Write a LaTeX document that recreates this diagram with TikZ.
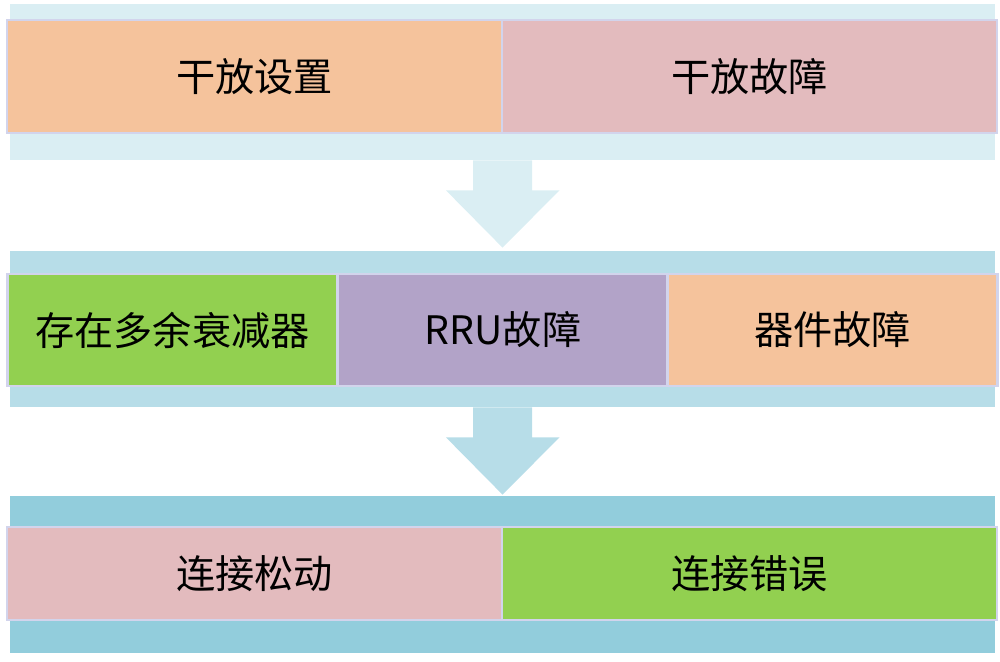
\documentclass[tikz,border=0pt]{standalone}
\usepackage{fontspec}
\newfontfamily\cjk{Noto Sans CJK SC}
\usepackage{tikz}
\usetikzlibrary{calc,backgrounds}
\definecolor{bandA} {RGB} {218, 238, 243}
\definecolor{bandB} {RGB} {183, 221, 232}
\definecolor{bandC} {RGB} {146, 205, 220}
\definecolor{orange1} {RGB} {245, 195, 156}
\definecolor{pink1} {RGB} {227, 187, 190}
\definecolor{purple1} {RGB} {178, 163, 200}
\definecolor{green1} {RGB} {146, 208, 80}
\definecolor{boxline} {RGB} {210, 212, 236}
\tikzstyle{flow}=[
  x=0.5pt, y=-0.5pt, font=\cjk\fontsize{19.6}{23}\selectfont
]
\tikzstyle{band}=[
  inner sep=0pt, minimum width=492.5pt, minimum height=78pt
]
\tikzstyle{flowbox}=[
  draw=boxline, line width=1.2pt, inner sep=0pt, text=black
]
\tikzstyle{widebox}=[
  flowbox, minimum width=247.5pt, minimum height=56.5pt
]
\tikzstyle{thirdbox}=[
  flowbox, minimum width=165pt, minimum height=56pt
]
\tikzstyle{lowbox}=[
  flowbox, minimum width=247.5pt, minimum height=46.5pt
]

\begin{document}
\begin{tikzpicture}[flow]
    \useasboundingbox (0,0) rectangle (1000,662);

    % bands
    \node (band1) [band, fill=bandA] at (502.5,82) {};
    \node (band2) [band, fill=bandB] at (502.5,329) {};
    \node (band3) [band, fill=bandC, minimum height=78.5pt] at (502.5,574.5) {};

    % first row
    \node (setup) [widebox, fill=orange1] at (254.5,76.5) {干放设置};
    \node (fault) [widebox, fill=pink1] at (749.5,76.5) {干放故障};

    % second row
    \node (atten) [thirdbox, fill=green1] at (172.5,330) {存在多余衰减器};
    \node (rru) [thirdbox, fill=purple1] at (503,330) {RRU故障};
    \node (part) [thirdbox, fill=orange1] at (832.5,330) {器件故障};

    % third row
    \node (loose) [lowbox, fill=pink1] at (254.5,573.5) {连接松动};
    \node (wrong) [lowbox, fill=green1] at (749.5,573.5) {连接错误};

    \begin{scope}[on background layer]
        \fill [bandA] ($(band1.south)+(-29.5,0)$) -- ++(0,30) -- ++(-27,0)
            -- ($(band2.north)+(0,-3)$) -- ($(band1.south)+(57,30)$)
            -- ++(-27.5,0) -- ($(band1.south)+(29.5,0)$) -- cycle;
        \fill [bandB] ($(band2.south)+(-29.5,0)$) -- ++(0,30) -- ++(-27,0)
            -- ($(band3.north)+(0,-1)$) -- ($(band2.south)+(57,30)$)
            -- ++(-27.5,0) -- ($(band2.south)+(29.5,0)$) -- cycle;
    \end{scope}
\end{tikzpicture}
\end{document}
